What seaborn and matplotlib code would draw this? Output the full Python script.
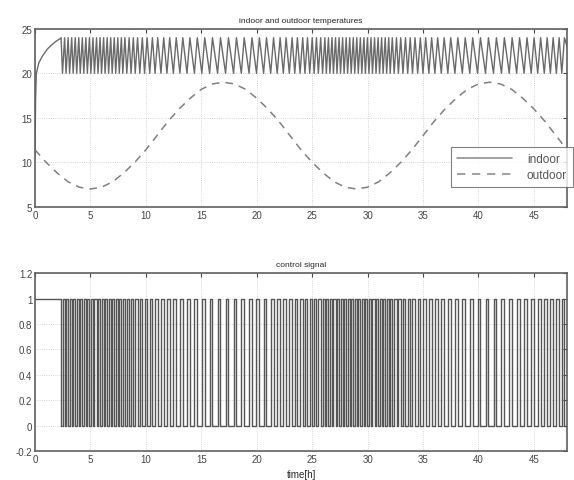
import numpy as np
import pandas as pd
import seaborn as sns
import matplotlib.pyplot as plt
from matplotlib.lines import Line2D

# outdoor temperature
hours = list(range(49))
outdoor = [11.4, 10.0, 8.8, 7.8, 7.2, 7.0, 7.2, 7.8, 8.8, 10.0, 11.4, 13.0, 14.6,
           16.0, 17.2, 18.2, 18.8, 19.0, 18.8, 18.2, 17.2, 16.0, 14.6, 13.0, 11.4,
           10.0, 8.8, 7.8, 7.2, 7.0, 7.2, 7.8, 8.8, 10.0, 11.4, 13.0, 14.6, 16.0,
           17.2, 18.2, 18.8, 19.0, 18.8, 18.2, 17.2, 16.0, 14.6, 13.0, 11.4]

# warm-up of the room before the thermostat starts switching
warmup_t = [0.0, 0.05, 0.12, 0.35, 0.7, 1.1, 1.5, 1.9, 2.2]
warmup_T = [11.0, 17.0, 20.0, 21.2, 22.0, 22.7, 23.2, 23.6, 23.85]

# heater off (indoor reaches 24) / heater on (indoor falls to 20)
peak_times = [2.35, 2.67, 2.99, 3.31, 3.63, 3.95, 4.27, 4.59, 4.91, 5.23, 5.55, 5.87,
              6.19, 6.51, 6.83, 7.15, 7.47, 7.79, 8.11, 8.49, 8.87, 9.25, 9.68, 10.11,
              10.59, 11.07, 11.61, 12.15, 12.74, 13.33, 13.97, 14.64, 15.31, 16.01,
              16.73, 17.45, 18.17, 18.87, 19.57, 20.24, 20.88, 21.52, 22.11, 22.65,
              23.19, 23.67, 24.15, 24.58, 25.01, 25.39, 25.77, 26.15, 26.47, 26.79,
              27.11, 27.43, 27.75, 28.07, 28.39, 28.71, 29.03, 29.35, 29.67, 29.99,
              30.31, 30.63, 30.95, 31.27, 31.59, 31.91, 32.23, 32.61, 32.99, 33.42,
              33.85, 34.28, 34.76, 35.24, 35.78, 36.32, 36.91, 37.50, 38.14, 38.81,
              39.48, 40.18, 40.90, 41.62, 42.34, 43.04, 43.71, 44.38, 45.02, 45.61,
              46.20, 46.74, 47.28, 47.76]
trough_times = [2.48, 2.80, 3.12, 3.44, 3.76, 4.08, 4.40, 4.72, 5.04, 5.36, 5.68, 6.00,
                6.32, 6.64, 6.96, 7.28, 7.60, 7.92, 8.28, 8.66, 9.04, 9.45, 9.88, 10.35,
                10.83, 11.36, 11.90, 12.48, 13.07, 13.71, 14.38, 15.05, 15.75, 16.47,
                17.19, 17.91, 18.61, 19.31, 19.98, 20.62, 21.26, 21.85, 22.40, 22.94,
                23.43, 23.91, 24.35, 24.78, 25.18, 25.56, 25.94, 26.28, 26.60, 26.92,
                27.24, 27.56, 27.88, 28.20, 28.52, 28.84, 29.16, 29.48, 29.80, 30.12,
                30.44, 30.76, 31.08, 31.40, 31.72, 32.04, 32.40, 32.78, 33.19, 33.62,
                34.05, 34.52, 35.00, 35.53, 36.07, 36.65, 37.24, 37.88, 38.55, 39.22,
                39.92, 40.64, 41.36, 42.08, 42.78, 43.45, 44.12, 44.76, 45.35, 45.94,
                46.49, 47.03, 47.52]
t_high, t_low = 24.0, 20.0
end_time, end_temp = 48.0, 23.0

# build the series
sw = pd.concat([
    pd.DataFrame({'time': peak_times, 'temp': t_high, 'u': 0}),
    pd.DataFrame({'time': trough_times, 'temp': t_low, 'u': 1}),
]).sort_values('time')

indoor = pd.concat([
    pd.DataFrame({'time': warmup_t, 'temp': warmup_T}),
    sw[['time', 'temp']],
    pd.DataFrame({'time': [end_time], 'temp': [end_temp]}),
], ignore_index=True)

control = pd.concat([
    pd.DataFrame({'time': [0.0], 'u': [1]}),
    sw[['time', 'u']],
], ignore_index=True)
control = pd.concat([control, pd.DataFrame({'time': [end_time], 'u': [control['u'].iloc[-1]]})],
                    ignore_index=True)

out_df = pd.DataFrame({'time': hours, 'temp': outdoor})

# ---- plot ---- #
sns.set_style('white')
plt.rcParams['font.family'] = ['Liberation Sans', 'DejaVu Sans']
plt.rcParams['xtick.direction'] = 'in'
plt.rcParams['ytick.direction'] = 'in'

fig = plt.figure(figsize=(5.74, 4.81), dpi=100)
ax1 = fig.add_axes([0.061, 0.568, 0.927, 0.370])
ax2 = fig.add_axes([0.061, 0.060, 0.927, 0.370])

sns.lineplot(data=indoor, x='time', y='temp', ax=ax1, color='#6a6a6a', lw=1.0,
             estimator=None, sort=False)
sns.lineplot(data=out_df, x='time', y='temp', ax=ax1, color='#808080', lw=1.1,
             linestyle=(0, (5, 4)), estimator=None)
sns.lineplot(data=control, x='time', y='u', ax=ax2, color='#555555', lw=1.0,
             drawstyle='steps-post', estimator=None, sort=False)

for ax in (ax1, ax2):
    ax.set_xlim(0, 48)
    ax.set_xticks(range(0, 50, 5))
    ax.set_xlabel('')
    ax.set_ylabel('')
    ax.grid(True, linestyle=':', color='#c8c8c8', lw=0.6)
    ax.tick_params(labelsize=7, length=3, colors='#444444', top=True, right=True, pad=2)
    for s in ax.spines.values():
        s.set_color('#606060')
        s.set_linewidth(1.2)

ax1.set_ylim(5, 25)
ax1.set_yticks([5, 10, 15, 20, 25])
ax1.set_title('indoor and outdoor temperatures', fontsize=6, pad=5)

ax2.set_ylim(-0.2, 1.2)
ax2.set_yticks([-0.2, 0, 0.2, 0.4, 0.6, 0.8, 1, 1.2])
ax2.set_yticklabels(['-0.2', '0', '0.2', '0.4', '0.6', '0.8', '1', '1.2'])
ax2.set_title('control signal', fontsize=6, pad=5)
ax2.set_xlabel('time[h]', fontsize=7, labelpad=4)

handles = [Line2D([], [], color='#909090', lw=1.2),
           Line2D([], [], color='#909090', lw=1.2, linestyle=(0, (5, 4)))]
leg = ax1.legend(handles, ['indoor', 'outdoor'], loc='upper right',
                 bbox_to_anchor=(573 / 574, 1 - 148 / 481), bbox_transform=fig.transFigure,
                 fontsize=8.5, frameon=True, fancybox=False, handlelength=4.6,
                 borderpad=0.5, labelspacing=0.35, handletextpad=1.3, borderaxespad=0)
leg.get_frame().set_edgecolor('#606060')
leg.get_frame().set_linewidth(0.8)
for txt in leg.get_texts():
    txt.set_color('#555555')

fig.savefig('out.png', dpi=100)
